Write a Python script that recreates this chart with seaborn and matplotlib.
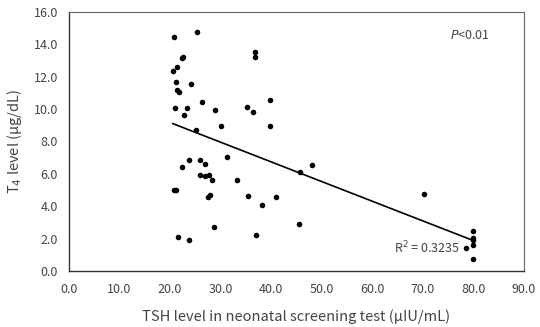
import numpy as np
import pandas as pd
import matplotlib
matplotlib.use("Agg")
import matplotlib.pyplot as plt
import seaborn as sns

# TSH (uIU/mL) vs T4 (ug/dL)
tsh = [20.8, 25.4, 21.3, 20.5, 22.3, 22.5, 21.2, 21.4, 21.8, 24.1,
       21.0, 23.4, 22.8, 26.4, 28.9, 30.1, 25.1, 35.3, 36.3, 36.8,
       36.8, 39.8, 39.8, 31.2, 23.7, 25.9, 20.7, 21.1, 22.3, 26.9,
       25.9, 26.9, 27.7, 28.2, 27.4, 27.9, 28.7, 21.6, 23.7, 33.3,
       35.5, 38.2, 37.0, 40.9, 45.7, 48.0, 45.4, 70.2, 78.5, 80.0,
       80.0, 80.0, 80.0, 80.0]
t4 = [14.45, 14.75, 12.6, 12.35, 13.15, 13.25, 11.65, 11.2, 11.05, 11.55,
      10.05, 10.05, 9.65, 10.45, 9.95, 8.95, 8.7, 10.15, 9.85, 13.55,
      13.25, 10.55, 8.95, 7.05, 6.85, 6.85, 5.0, 5.0, 6.4, 6.6,
      5.95, 5.85, 5.95, 5.6, 4.55, 4.7, 2.7, 2.1, 1.9, 5.6,
      4.65, 4.05, 2.2, 4.55, 6.1, 6.55, 2.9, 4.75, 1.45, 2.5,
      2.05, 1.9, 1.6, 0.72]

x_ticks = np.arange(0, 91, 10)
y_ticks = np.arange(0, 17, 2)

df = pd.DataFrame({"tsh": tsh, "t4": t4})

sns.set_style("white")
plt.rcParams["font.family"] = ["Noto Sans CJK KR", "DejaVu Sans"]

fig = plt.figure(figsize=(5.4, 3.27), dpi=100)
ax = fig.add_axes([0.1278, 0.1713, 0.8426, 0.792])

sns.regplot(data=df, x="tsh", y="t4", ax=ax, ci=None, truncate=True,
            scatter_kws={"s": 16, "color": "black", "linewidths": 0, "alpha": 1},
            line_kws={"color": "black", "linewidth": 1.2})

ax.set_xlim(0, 90)
ax.set_ylim(0, 16)
ax.set_xticks(x_ticks)
ax.set_yticks(y_ticks)
ax.set_xticklabels([f"{v:.1f}" for v in x_ticks])
ax.set_yticklabels([f"{v:.1f}" for v in y_ticks])
ax.tick_params(axis="x", direction="in", length=3, width=0.8, color="#333333",
               labelsize=9, labelcolor="#444444", pad=9)
ax.tick_params(axis="y", length=0, labelsize=9, labelcolor="#444444", pad=8)

for side in ["left", "bottom"]:
    ax.spines[side].set_color("#333333")
    ax.spines[side].set_linewidth(1.0)
for side in ["top", "right"]:
    ax.spines[side].set_color("#666666")
    ax.spines[side].set_linewidth(0.8)

ax.set_xlabel("TSH level in neonatal screening test (µIU/mL)", fontsize=10.5,
              color="#444444", labelpad=9)
ax.set_ylabel("T$_4$ level (µg/dL)", fontsize=10.5, color="#444444", labelpad=7)

ax.text(0.837, 0.911, "$P$<0.01", transform=ax.transAxes, fontsize=9,
        color="#444444", ha="left", va="center")
ax.text(64.3, 1.4, "R$^2$ = 0.3235", fontsize=9, color="#444444",
        ha="left", va="center")

fig.savefig("out.png", dpi=100)
